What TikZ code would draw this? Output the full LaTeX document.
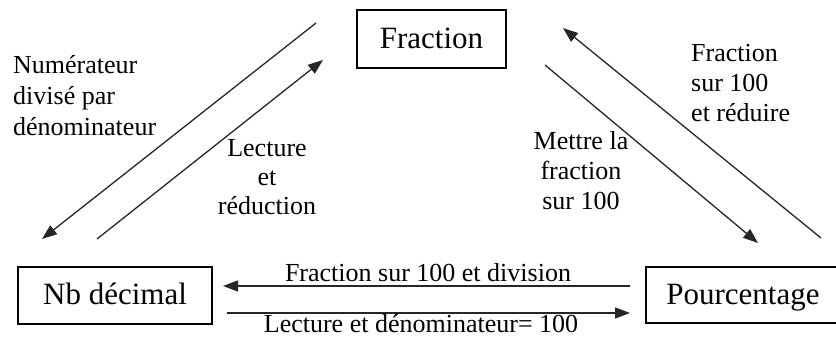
\documentclass[tikz,border=0pt]{standalone}
\usepackage{fontspec}
\setmainfont{Liberation Serif}
\usetikzlibrary{arrows.meta}
\begin{document}
\begin{tikzpicture}[x=1pt,y=-1pt,
  box/.style={draw,line width=1.3pt,inner sep=0pt,text height=24pt,text depth=5pt,font=\fontsize{31}{36}\selectfont},
  lbl/.style={inner sep=0pt,font=\fontsize{26}{30}\selectfont},
  conn/.style={line width=1.3pt,draw=black!85,-{Triangle[length=15pt,width=11pt]}}]
\clip (0,0) rectangle (836,339);
\fill[white] (0,0) rectangle (836,339);
% boxes
\node[box,minimum width=149pt,minimum height=58pt] (frac) at (431.5,39) {Fraction};
\node[box,minimum width=194pt,minimum height=57pt] (dec) at (115,295.5) {Nb décimal};
\node[box,minimum width=194pt,minimum height=56pt] (pct) at (743,295) {Pourcentage};
% connector end points
\coordinate (a1s) at (316,23);  \coordinate (a1e) at (42,239);
\coordinate (a2s) at (97,239);  \coordinate (a2e) at (323,60);
\coordinate (a3s) at (821,238); \coordinate (a3e) at (563,28);
\coordinate (a4s) at (545,65);  \coordinate (a4e) at (758,243);
\coordinate (h1s) at (630,286); \coordinate (h1e) at (223,286);
\coordinate (h2s) at (227,313); \coordinate (h2e) at (630,313);
\draw[conn] (a1s) -- (a1e);
\draw[conn] (a2s) -- (a2e);
\draw[conn] (a3s) -- (a3e);
\draw[conn] (a4s) -- (a4e);
\draw[conn] (h1s) -- (h1e);
\draw[conn] (h2s) -- (h2e);
% labels (anchor at baseline of last line)
\node[lbl,anchor=base west,align=left,font=\fontsize{26}{31}\selectfont] (l1) at (13,136) {Numérateur\\divisé par\\dénominateur};
\node[lbl,anchor=base,align=center,font=\fontsize{26}{29}\selectfont] (l2) at (267,215) {Lecture\\et\\réduction};
\node[lbl,anchor=base,align=center] (l3) at (581,210) {Mettre la\\fraction\\sur 100};
\node[lbl,anchor=base west,align=left] (l4) at (691,122) {Fraction\\sur 100\\et réduire};
\node[lbl,anchor=base] (l5) at (428,282) {Fraction sur 100 et division};
\node[lbl,anchor=base] (l6) at (421,333) {Lecture et dénominateur= 100};
\end{tikzpicture}
\end{document}
